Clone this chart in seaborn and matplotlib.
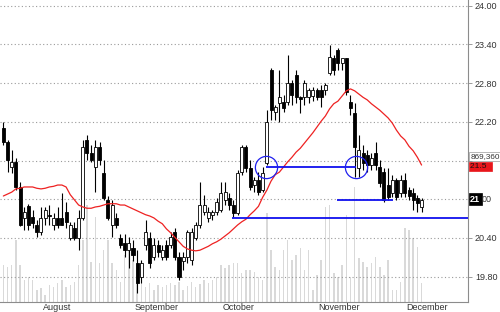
import matplotlib
matplotlib.use("Agg")
import matplotlib.pyplot as plt
import seaborn as sns
import numpy as np
import pandas as pd

# ---------------- data ----------------
opens = [22.10, 21.89, 21.50, 21.58, 21.19, 20.71, 20.90, 20.72, 20.60, 20.49,
         20.71, 20.76, 20.60, 20.71, 20.71, 20.80, 20.40, 20.55, 20.40, 20.71,
         21.92, 21.72, 21.50, 21.81, 21.41, 20.99, 20.60, 20.71, 20.40, 20.32,
         20.21, 20.24, 20.01, 19.79, 20.29, 20.40, 20.10, 20.29, 20.10, 20.29,
         20.29, 20.49, 20.10, 20.04, 20.10, 20.06, 20.40, 20.60, 20.80, 20.71,
         20.76, 20.80, 20.83, 20.99, 21.02, 20.91, 20.79, 21.42, 21.81, 21.48,
         21.22, 21.30, 21.14, 21.56, 23.00, 22.35, 22.49, 22.51, 22.51, 22.80,
         22.93, 22.58, 22.58, 22.58, 22.60, 22.69, 22.69, 22.69, 22.96, 23.19,
         23.31, 23.11, 23.19, 22.51, 22.34, 21.48, 21.72, 21.69, 21.53, 21.72,
         21.50, 21.42, 21.22, 21.10, 21.30, 21.10, 21.30, 21.14, 21.10, 21.02,
         20.88]
highs = [22.20, 21.92, 21.76, 21.64, 21.27, 20.88, 20.93, 20.83, 20.68, 20.88,
         20.88, 20.91, 20.79, 20.88, 21.10, 20.95, 20.65, 20.65, 20.83, 21.92,
         22.00, 21.84, 21.92, 21.89, 21.61, 21.05, 20.99, 20.79, 20.46, 20.46,
         20.41, 20.37, 20.21, 20.06, 20.68, 20.49, 20.40, 20.37, 20.29, 20.37,
         20.49, 20.55, 20.18, 20.18, 20.52, 20.55, 20.65, 21.27, 21.07, 20.88,
         20.83, 21.02, 21.27, 21.27, 21.10, 20.99, 21.45, 21.84, 21.84, 21.61,
         21.35, 21.42, 21.50, 22.38, 23.03, 22.46, 23.00, 22.62, 23.24, 22.85,
         23.00, 22.60, 22.85, 22.72, 22.74, 22.72, 22.77, 22.80, 23.39, 23.24,
         23.34, 23.16, 23.19, 22.62, 22.49, 22.00, 21.84, 21.76, 21.72, 21.89,
         21.61, 21.48, 21.48, 21.38, 21.33, 21.38, 21.41, 21.19, 21.17, 21.07,
         21.02]
lows = [21.84, 21.42, 21.41, 21.14, 20.58, 20.52, 20.52, 20.55, 20.41, 20.45,
        20.60, 20.60, 20.52, 20.55, 20.60, 20.55, 20.37, 20.37, 20.21, 20.68,
        21.61, 21.58, 21.11, 21.53, 20.99, 20.68, 20.41, 20.55, 20.24, 20.10,
        19.93, 20.04, 19.55, 19.70, 20.21, 19.93, 20.06, 20.10, 20.06, 20.06,
        20.24, 20.06, 19.75, 19.90, 20.01, 19.98, 20.37, 20.55, 20.76, 20.65,
        20.68, 20.76, 20.80, 20.91, 20.83, 20.72, 20.76, 21.38, 21.42, 21.14,
        21.11, 21.07, 21.11, 21.53, 22.23, 22.23, 22.20, 22.35, 22.46, 22.46,
        22.49, 22.34, 22.46, 22.49, 22.52, 22.54, 22.43, 22.62, 22.93, 22.93,
        23.00, 23.00, 22.62, 22.31, 21.35, 21.35, 21.45, 21.42, 21.45, 21.45,
        21.19, 20.96, 20.99, 21.03, 20.99, 21.03, 21.03, 20.99, 20.83, 20.80,
        20.80]
closes = [21.89, 21.61, 21.58, 21.19, 20.60, 20.80, 20.60, 20.63, 20.49, 20.71,
          20.83, 20.74, 20.71, 20.60, 20.60, 20.65, 20.60, 20.40, 20.71, 21.81,
          21.72, 21.61, 21.81, 21.61, 21.02, 20.71, 20.91, 20.60, 20.29, 20.21,
          20.32, 20.14, 19.70, 20.01, 20.49, 20.01, 20.29, 20.18, 20.21, 20.10,
          20.41, 20.10, 19.79, 20.10, 20.49, 20.49, 20.60, 20.91, 20.91, 20.80,
          20.80, 20.96, 21.10, 21.11, 20.91, 20.79, 21.41, 21.81, 21.48, 21.19,
          21.30, 21.11, 21.41, 22.20, 22.38, 22.43, 22.58, 22.41, 22.80, 22.62,
          22.58, 22.56, 22.80, 22.69, 22.69, 22.58, 22.58, 22.77, 23.20, 23.00,
          23.11, 23.19, 22.66, 22.41, 21.81, 21.76, 21.56, 21.53, 21.64, 21.53,
          21.25, 20.99, 21.03, 21.30, 21.03, 21.30, 21.10, 21.05, 20.99, 20.94,
          20.99]
moving_avg = [21.05, 21.08, 21.11, 21.16, 21.17, 21.19, 21.19, 21.19, 21.17, 21.16,
              21.17, 21.19, 21.20, 21.22, 21.22, 21.19, 21.07, 20.99, 20.91, 20.88,
              20.86, 20.86, 20.88, 20.89, 20.91, 20.93, 20.93, 20.93, 20.91, 20.91,
              20.88, 20.85, 20.82, 20.79, 20.76, 20.74, 20.71, 20.66, 20.62, 20.54,
              20.48, 20.41, 20.34, 20.27, 20.23, 20.21, 20.20, 20.21, 20.24, 20.27,
              20.31, 20.34, 20.38, 20.43, 20.48, 20.54, 20.60, 20.65, 20.69, 20.76,
              20.82, 20.89, 21.03, 21.14, 21.28, 21.38, 21.42, 21.50, 21.58, 21.65,
              21.73, 21.79, 21.87, 21.95, 22.03, 22.12, 22.21, 22.29, 22.40, 22.48,
              22.52, 22.60, 22.68, 22.71, 22.68, 22.63, 22.58, 22.54, 22.48, 22.43,
              22.38, 22.32, 22.26, 22.18, 22.07, 21.98, 21.92, 21.82, 21.75, 21.65,
              21.53]
volume_k = [222, 210, 222, 372, 222, 132, 150, 132, 72, 84,
            42, 102, 90, 114, 132, 90, 102, 120, 222, 372,
            582, 240, 510, 234, 312, 372, 234, 192, 120, 282,
            312, 252, 222, 132, 90, 114, 72, 102, 90, 102,
            114, 102, 120, 72, 96, 120, 90, 108, 132, 114,
            132, 150, 222, 204, 222, 234, 234, 174, 192, 192,
            180, 150, 132, 534, 312, 210, 192, 312, 372, 252,
            282, 324, 192, 312, 72, 162, 252, 570, 582, 174,
            150, 222, 522, 150, 690, 264, 240, 210, 234, 270,
            210, 162, 252, 72, 72, 120, 444, 432, 384, 330,
            114]

month_labels = ["August", "September", "October", "November", "December"]
month_index = [9, 31, 52, 75, 96]

price_ticks = [19.80, 20.40, 21.00, 21.60, 22.20, 22.80, 23.40, 24.00]

# horizontal support / resistance levels: start index, end index, price
level_start = [62.8, 79.8, 54.7]
level_end = [84.3, 93.1, 999]
level_price = [21.50, 20.99, 20.71]
circle_index = [62.8, 84.3]
circle_price = [21.50, 21.50]

volume_scale_label = 869.36   # thousands
ma_label = "21.5"
last_label = "21"

# ---------------- figure ----------------
sns.set_style("white")
plt.rcParams["font.family"] = ["Liberation Sans", "DejaVu Sans"]

W, H = 500, 312
fig = plt.figure(figsize=(W / 100, H / 100), dpi=100)
fig.patch.set_facecolor("white")
ax = fig.add_axes([0, 10 / H, 468 / W, 302 / H])   # volume axis (behind)
ax2 = ax.twinx()                                    # price axis

n = len(closes)
idx = np.arange(n)
XMIN, XMAX = -0.8, 111.1

df = pd.DataFrame({"i": idx, "vol": volume_k, "ma": moving_avg})

# volume
sns.barplot(data=df, x="i", y="vol", native_scale=True, width=0.36,
            color="#d9d9d9", saturation=1, errorbar=None, ax=ax,
            linewidth=0)
ax.set_ylim(0, 1812)
ax.set_xlim(XMIN, XMAX)
ax.set_xlabel("")
ax.set_ylabel("")
ax.set_yticks([])
for s in ["top", "left", "right"]:
    ax.spines[s].set_visible(False)
ax.spines["bottom"].set_color("#8c8c8c")
ax.spines["bottom"].set_linewidth(0.8)

# price: grid
hidden = {21.60, 21.00}   # covered by the volume-scale box and the last-price box
ax2.set_ylim(19.407, 24.088)
ax2.set_xlim(XMIN, XMAX)
ax2.set_yticks(price_ticks)
ax2.set_yticklabels(["" if t in hidden else f"{t:.2f}" for t in price_ticks],
                    fontsize=6.5, color="#333333")
ax2.tick_params(axis="y", length=3, width=0.6, pad=2, color="#8c8c8c")
for t in price_ticks:
    ax2.axhline(t, color="#9a9a9a", lw=0.8, ls=(0, (1, 2.2)), zorder=0.5)
for s in ["top", "left", "bottom"]:
    ax2.spines[s].set_visible(False)
ax2.spines["right"].set_color("#8c8c8c")
ax2.spines["right"].set_linewidth(0.8)

# candles
o = np.array(opens); c = np.array(closes)
hi = np.array(highs); lo = np.array(lows)
ax2.vlines(idx, lo, hi, color="black", lw=0.8, zorder=2)
up = c >= o
body_lo = np.minimum(o, c)
body_h = np.maximum(np.abs(c - o), 0.012)
ax2.bar(idx[up], body_h[up], bottom=body_lo[up], width=0.72,
        color="white", edgecolor="black", linewidth=0.6, zorder=3)
ax2.bar(idx[~up], body_h[~up], bottom=body_lo[~up], width=0.72,
        color="black", edgecolor="black", linewidth=0.6, zorder=3)

# moving average
sns.lineplot(data=df, x="i", y="ma", color="#ee2222", lw=0.9, ax=ax2, zorder=4)
ax2.set_xlabel("")
ax2.set_ylabel("")

# levels and circles
for s0, s1, p in zip(level_start, level_end, level_price):
    ax2.hlines(p, s0, min(s1, XMAX), color="#1010ee", lw=1.3, zorder=5)
ax2.plot(circle_index, circle_price, ls="none", marker="o", ms=16,
         mfc="none", mec="#2020ee", mew=0.9, zorder=6)
ax2.set_xlim(XMIN, XMAX)

# month ticks
ax.set_xticks(month_index)
ax.set_xticklabels([])
ax.tick_params(axis="x", length=5, width=0.7, color="#555555", direction="out", pad=0)
for m, lab in zip(month_index, month_labels):
    ax.annotate(lab, xy=(m, 0), xycoords=("data", "axes fraction"),
                xytext=(1.2, -3.6), textcoords="offset points",
                ha="left", va="center", fontsize=6.5, color="#333333")

# right side boxes
ax.annotate(f"{volume_scale_label * 1000:,.0f}", xy=(1, volume_scale_label),
            xycoords=("axes fraction", "data"), xytext=(1.6, 0.5),
            textcoords="offset points", ha="left", va="center", fontsize=5.9,
            color="#333333", annotation_clip=False,
            bbox=dict(boxstyle="square,pad=0.12", fc="white", ec="#9a9a9a", lw=0.5))
ax2.annotate(ma_label + "  ", xy=(1, moving_avg[-1]),
             xycoords=("axes fraction", "data"), xytext=(1.6, -1.2),
             textcoords="offset points", ha="left", va="center", fontsize=6,
             color="#111111", annotation_clip=False,
             bbox=dict(boxstyle="square,pad=0.1", fc="#e8161b", ec="#e8161b", lw=0.5))
t21 = ax2.annotate(last_label, xy=(1, 21.00),
                   xycoords=("axes fraction", "data"), xytext=(1.6, 0),
                   textcoords="offset points", ha="left", va="center", fontsize=6.5,
                   color="white", annotation_clip=False, fontweight="bold",
                   bbox=dict(boxstyle="square,pad=0.15", fc="black", ec="black", lw=0.5))
ax2.annotate("00", xy=(1, 21.00),
             xycoords=("axes fraction", "data"), xytext=(9.8, 0),
             textcoords="offset points", ha="left", va="center", fontsize=6.5,
             color="#333333", annotation_clip=False)

fig.savefig("out.png", dpi=100, facecolor="white")
